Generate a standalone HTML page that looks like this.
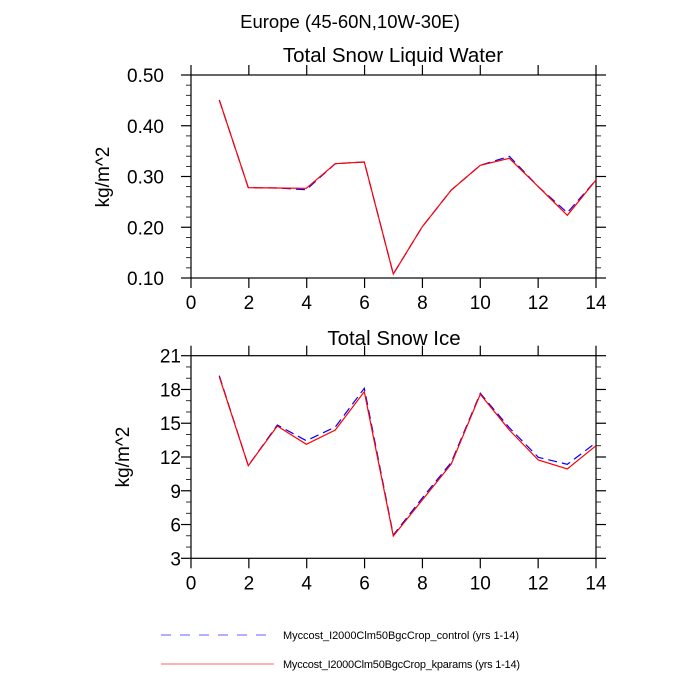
<!DOCTYPE html>
<html><head><meta charset="utf-8"><style>body{margin:0;background:#fff}svg{display:block}text{font-family:"Liberation Sans",sans-serif;fill:#000}</style></head>
<body>
<svg id="s" width="700" height="700" viewBox="0 0 700 700" xmlns="http://www.w3.org/2000/svg">
<text x="350" y="28" font-size="18.5" text-anchor="middle">Europe (45-60N,10W-30E)</text>
<text x="393" y="62" font-size="20.5" text-anchor="middle">Total Snow Liquid Water</text>
<text x="394" y="345" font-size="20.5" text-anchor="middle">Total Snow Ice</text>
<text transform="translate(109,177) rotate(-90)" font-size="19" text-anchor="middle">kg/m^2</text>
<text transform="translate(129,457) rotate(-90)" font-size="19" text-anchor="middle">kg/m^2</text>
<g id="ax" stroke="#000" fill="none"></g>
<polyline fill="none" stroke="#0000ff" stroke-width="1.2" stroke-dasharray="9,5" points="219.3,100 248.3,187.7 277.3,188 306.3,189.7 335.3,163.7 364.3,162 393.3,274 422.3,226.7 451.3,190 480.3,165.3 509.3,156.3 538.3,186.7 567.3,212.7 596,180"/>
<polyline fill="none" stroke="#ff0000" stroke-width="1.2" points="219.3,100 248.3,187.7 277.3,188 306.3,188.3 335.3,163.7 364.3,162 393.3,274 422.3,226.7 451.3,190 480.3,165.3 509.3,158.3 538.3,186.7 567.3,215.3 596,180"/>
<polyline fill="none" stroke="#0000ff" stroke-width="1.2" stroke-dasharray="9,5" points="219.3,375.7 248.3,465.7 277.3,425 306.3,440.7 335.3,427 364.3,388.3 393.3,535 422.3,498 451.3,462.3 480.3,393.3 509.3,427.7 538.3,457.3 567.3,464.3 596,442.7"/>
<polyline fill="none" stroke="#ff0000" stroke-width="1.2" points="219.3,376.7 248.3,465.7 277.3,426 306.3,444.3 335.3,430 364.3,391.7 393.3,536 422.3,500 451.3,464 480.3,394.3 509.3,430 538.3,460 567.3,469 596,445.7"/>
<line x1="161" y1="635" x2="274" y2="635" stroke="#6060ff" stroke-dasharray="10,9"/>
<line x1="161" y1="664" x2="274" y2="664" stroke="#ff6060"/>
<text x="283" y="639" font-size="11" textLength="236">Myccost_I2000Clm50BgcCrop_control (yrs 1-14)</text>
<text x="283" y="668" font-size="11" textLength="237">Myccost_I2000Clm50BgcCrop_kparams (yrs 1-14)</text>
</svg>
<script>
var ns="http://www.w3.org/2000/svg",ax=document.getElementById("ax"),s=document.getElementById("s");
function L(a,b,c,d,w){var e=document.createElementNS(ns,"line");e.setAttribute("x1",a);e.setAttribute("y1",b);e.setAttribute("x2",c);e.setAttribute("y2",d);e.setAttribute("stroke-width",w||1);ax.appendChild(e);}
function T(x,y,t,anc){var e=document.createElementNS(ns,"text");e.setAttribute("x",x);e.setAttribute("y",y);e.setAttribute("font-size","19");e.setAttribute("text-anchor",anc);e.textContent=t;s.appendChild(e);}
var X0=191,X1=596;
function panel(top,bot,labels,nminor,off){
  var r=document.createElementNS(ns,"rect");r.setAttribute("x",X0);r.setAttribute("y",top);r.setAttribute("width",X1-X0);r.setAttribute("height",bot-top);r.setAttribute("stroke-width","1.2");ax.appendChild(r);
  for(var i=0;i<=7;i++){var x=X0+(X1-X0)*i/7;L(x,bot,x,bot+10,1.2);L(x,top,x,top-10,1.2);T(x,bot+31,String(i*2),"middle");}
  var n=labels.length-1;
  for(var j=0;j<=n;j++){var y=bot-(bot-top)*j/n;L(X0-10,y,X0,y,1.2);L(X1,y,X1+10,y,1.2);T(X0-off,y+7,labels[j],"end");}
  var m=n*nminor;
  for(var k=0;k<=m;k++){if(k%nminor==0)continue;var y=bot-(bot-top)*k/m;L(X0-5,y,X0,y,0.8);L(X1,y,X1+5,y,0.8);}
}
panel(75,278,["0.10","0.20","0.30","0.40","0.50"],5,27);
panel(355.7,558.3,["3","6","9","12","15","18","21"],3,10);
</script>
</body></html>
